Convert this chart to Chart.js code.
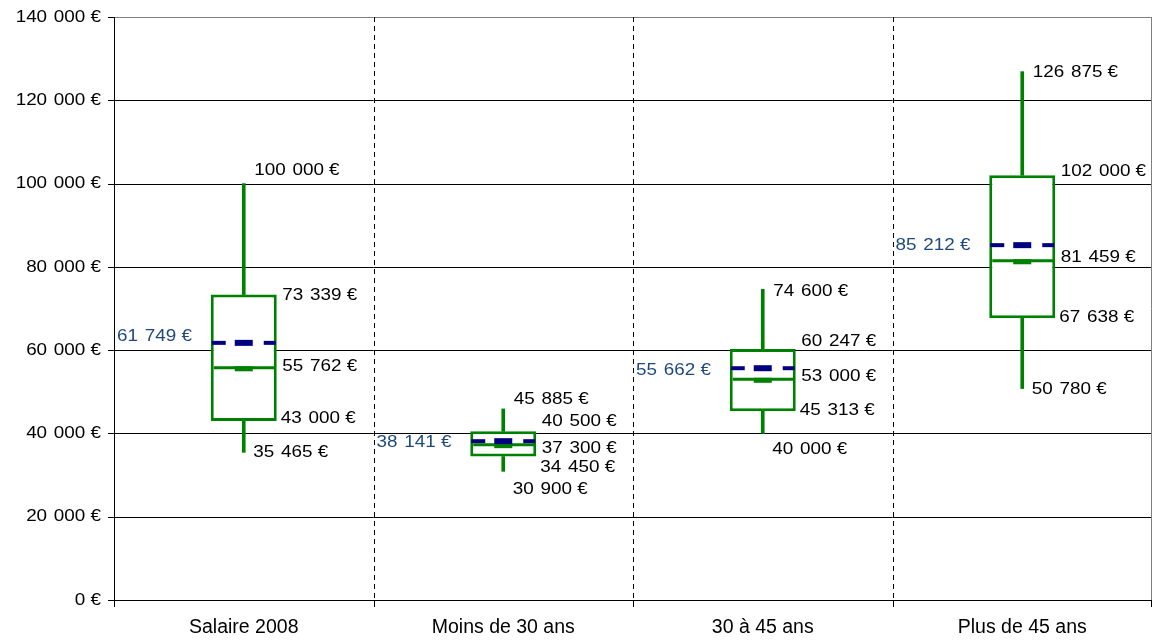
<!DOCTYPE html>
<html><head><meta charset="utf-8">
<script src="https://cdn.jsdelivr.net/npm/chart.js@4.4.0/dist/chart.umd.min.js"></script>
<style>html,body{margin:0;padding:0;background:#fff;overflow:hidden}#wrap{width:1162px;height:644px}</style>
</head><body><div id="wrap"><canvas id="c" width="1162" height="644"></canvas></div>
<script>
// ---- data ----
const categories = ['Salaire 2008', 'Moins de 30 ans', '30 à 45 ans', 'Plus de 45 ans'];
const minValues    = [35465, 30900, 40000, 50780];
const q1Values     = [43000, 34450, 45313, 67638];
const medianValues = [55762, 37300, 53000, 81459];
const q3Values     = [73339, 40500, 60247, 102000];
const maxValues    = [100000, 45885, 74600, 126875];
const meanValues   = [61749, 38141, 55662, 85212];
const yTickValues  = [0, 20000, 40000, 60000, 80000, 100000, 120000, 140000];

// ---- label nudges (px, vertical) ----
const dyMax  = [-13, -10, 2, 1];
const dyQ3   = [1, -10, -8, -4];
const dyMed  = [-1, 4, -3, -3];
const dyQ1   = [-3, 11, -1, -1];
const dyMin  = [0, 18, 16, 1];
const dyMean = [-7, 1, 2, 0];

const GREEN = '#008000', NAVY = '#000080', BLUE_TXT = '#1f497d';
const LABEL_FONT = '17px "Liberation Sans", Arial, sans-serif';
const CAT_FONT = '19.5px "Liberation Sans", Arial, sans-serif';
const SX = 1.11;      // horizontal stretch of value labels
const SEP = 6;        // thousands separator width (unstretched px)

function groups(v) {
  return String(v).replace(/\B(?=(\d{3})+(?!\d))/g, '|').split('|');
}
function measureMoney(ctx, v) {
  const g = groups(v);
  let w = 0;
  g.forEach((p, k) => { w += ctx.measureText(p).width + (k < g.length - 1 ? SEP : 0); });
  w += ctx.measureText(' €').width;
  return w;
}
function drawMoney(ctx, v, x, y, align, color) {
  ctx.save();
  ctx.font = LABEL_FONT; ctx.fillStyle = color; ctx.textBaseline = 'middle'; ctx.textAlign = 'left';
  const w = measureMoney(ctx, v) * SX;
  const lx = align === 'right' ? x - w : (align === 'center' ? x - w / 2 : x);
  ctx.translate(lx, y); ctx.scale(SX, 1);
  const g = groups(v);
  let cx = 0;
  g.forEach((p, k) => {
    ctx.fillText(p, cx, 0);
    cx += ctx.measureText(p).width + (k < g.length - 1 ? SEP : 0);
  });
  ctx.fillText(' €', cx, 0);
  ctx.restore();
}
function drawText(ctx, txt, x, y, color, font) {
  ctx.save();
  ctx.font = font; ctx.fillStyle = color; ctx.textBaseline = 'middle'; ctx.textAlign = 'center';
  ctx.fillText(txt, x, y);
  ctx.restore();
}

const framePlugin = {
  id: 'frame',
  beforeDatasetsDraw(chart) {
    const ctx = chart.ctx, ca = chart.chartArea;
    const ys = chart.scales.y;
    const n = categories.length, cw = (ca.right - ca.left) / n;
    ctx.save();
    ctx.lineWidth = 1;
    yTickValues.forEach((v, i) => {
      const y = Math.round(ys.getPixelForValue(v)) + 0.5;
      ctx.beginPath();
      ctx.strokeStyle = (i === yTickValues.length - 1) ? '#808080' : '#000';
      ctx.moveTo(ca.left, y); ctx.lineTo(ca.right, y); ctx.stroke();
      ctx.beginPath(); ctx.strokeStyle = '#000';
      ctx.moveTo(ca.left - 6, y); ctx.lineTo(ca.left, y); ctx.stroke();
    });
    ctx.beginPath(); ctx.strokeStyle = '#808080';
    const rx = Math.round(ca.right) - 0.5;
    ctx.moveTo(rx, ca.top); ctx.lineTo(rx, ca.bottom); ctx.stroke();
    ctx.setLineDash([5, 4]); ctx.strokeStyle = '#000';
    for (let i = 1; i < n; i++) {
      const x = Math.round(ca.left + i * cw) + 0.5;
      ctx.beginPath(); ctx.moveTo(x, ca.top); ctx.lineTo(x, ca.bottom); ctx.stroke();
    }
    ctx.setLineDash([]);
    for (let i = 0; i <= n; i++) {
      const x = Math.round(ca.left + i * cw) + (i === n ? -0.5 : 0.5);
      ctx.beginPath(); ctx.moveTo(x, ca.bottom); ctx.lineTo(x, ca.bottom + 7); ctx.stroke();
    }
    const by = Math.round(ca.bottom) + 0.5;
    ctx.beginPath(); ctx.moveTo(ca.left - 6, by); ctx.lineTo(ca.right, by); ctx.stroke();
    const lx = Math.round(ca.left) + 0.5;
    ctx.beginPath(); ctx.moveTo(lx, ca.top); ctx.lineTo(lx, ca.bottom + 7); ctx.stroke();
    ctx.restore();
  },
  afterDatasetsDraw(chart) {
    const ctx = chart.ctx, ca = chart.chartArea;
    const ys = chart.scales.y, xs = chart.scales.x;
    const n = categories.length, cw = (ca.right - ca.left) / n;
    const meta = chart.getDatasetMeta(0);
    ctx.save();
    meta.data.forEach((bar, i) => {
      const L = bar.x - bar.width / 2, R = bar.x + bar.width / 2, cx = bar.x;
      const my = ys.getPixelForValue(medianValues[i]);
      ctx.strokeStyle = GREEN; ctx.lineWidth = 3;
      ctx.beginPath(); ctx.moveTo(L + 3, my); ctx.lineTo(R - 1.5, my); ctx.stroke();
      ctx.fillStyle = GREEN; ctx.fillRect(cx - 9, my - 1.5, 18, 5);
      const mny = ys.getPixelForValue(meanValues[i]);
      ctx.strokeStyle = NAVY; ctx.lineWidth = 4;
      ctx.beginPath(); ctx.moveTo(L + 1, mny); ctx.lineTo(L + 15, mny); ctx.stroke();
      ctx.beginPath(); ctx.moveTo(R - 13, mny); ctx.lineTo(R - 1, mny); ctx.stroke();
      ctx.fillStyle = NAVY; ctx.fillRect(cx - 9, mny - 3, 18, 6);
    });
    meta.data.forEach((bar, i) => {
      const cx = bar.x;
      const boxX = cx + 38.5, wX = cx + 10.5;
      drawMoney(ctx, maxValues[i], wX, ys.getPixelForValue(maxValues[i]) + dyMax[i], 'left', '#000');
      drawMoney(ctx, q3Values[i], boxX, ys.getPixelForValue(q3Values[i]) + dyQ3[i], 'left', '#000');
      drawMoney(ctx, medianValues[i], boxX, ys.getPixelForValue(medianValues[i]) + dyMed[i], 'left', '#000');
      drawMoney(ctx, q1Values[i], boxX - 1.5, ys.getPixelForValue(q1Values[i]) + dyQ1[i], 'left', '#000');
      drawMoney(ctx, minValues[i], wX - 1, ys.getPixelForValue(minValues[i]) + dyMin[i], 'left', '#000');
      drawMoney(ctx, meanValues[i], ca.left + i * cw + 3, ys.getPixelForValue(meanValues[i]) + dyMean[i], 'left', BLUE_TXT);
    });
    yTickValues.forEach(v => {
      drawMoney(ctx, v, ca.left - 13, ys.getPixelForValue(v), 'right', '#000');
    });
    categories.forEach((c, i) => {
      drawText(ctx, c, xs.getPixelForValue(i), ca.bottom + 28, '#000', CAT_FONT);
    });
    ctx.restore();
  }
};

new Chart(document.getElementById('c'), {
  type: 'bar',
  data: {
    labels: categories,
    datasets: [
      {
        label: 'box',
        data: q1Values.map((q, i) => [q, q3Values[i]]),
        backgroundColor: '#ffffff', borderColor: GREEN, borderWidth: 3, borderSkipped: false,
        barPercentage: 0.2543, categoryPercentage: 1, grouped: false
      },
      {
        label: 'lowerWhisker',
        data: minValues.map((m, i) => [m, q1Values[i]]),
        backgroundColor: GREEN, borderWidth: 0, barThickness: 3, grouped: false
      },
      {
        label: 'upperWhisker',
        data: q3Values.map((q, i) => [q, maxValues[i]]),
        backgroundColor: GREEN, borderWidth: 0, barThickness: 3, grouped: false
      }
    ]
  },
  options: {
    responsive: false, animation: false, devicePixelRatio: 1,
    layout: { padding: { left: 114, top: 17, right: 10, bottom: 44 } },
    plugins: { legend: { display: false }, tooltip: { enabled: false } },
    scales: {
      x: { display: false, offset: true },
      y: { display: false, min: 0, max: 140000, ticks: { stepSize: 20000 } }
    }
  },
  plugins: [framePlugin]
});
</script></body></html>
